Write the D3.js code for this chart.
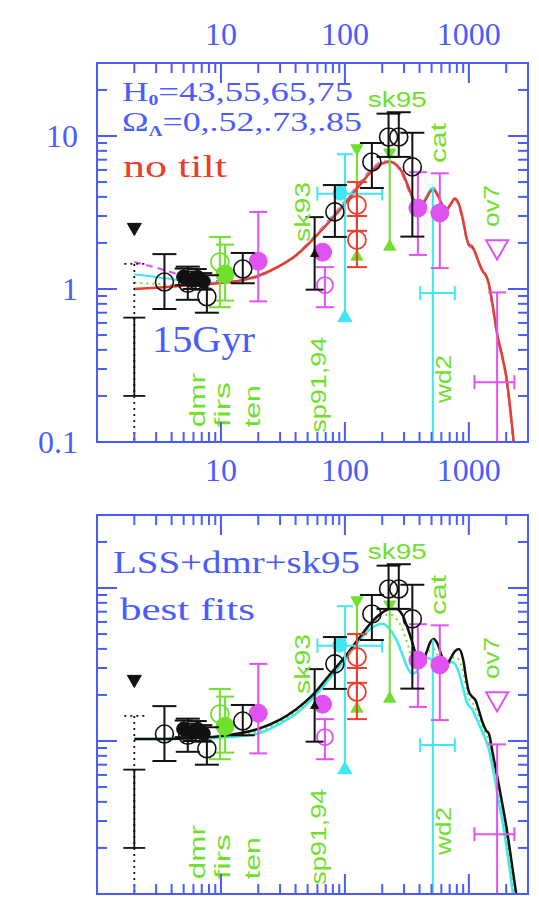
<!DOCTYPE html>
<html lang="en">
<head>
<meta charset="UTF-8">
<title>CMB anisotropy models</title>
<script src="https://d3js.org/d3.v7.min.js"></script>
<style>
  body { margin: 0; background: #fff; }
  svg { display: block; }
</style>
</head>
<body>
<svg id="chart" width="539" height="908"></svg>
<script>
// ---------------- data ----------------
const modelL = [2, 3, 5, 8, 12, 20, 30, 40, 55, 75, 100, 130, 165, 200, 230, 260, 290, 320, 350, 380, 410, 450, 490, 520, 560, 610, 660, 710, 770, 830, 900, 960, 1000, 1060, 1130, 1200, 1300, 1380, 1450, 1550, 1700, 1850, 2000, 2150, 2300, 2450];

// top panel: no tilt, 15 Gyr
const redModel = [1.00, 1.02, 1.05, 1.08, 1.11, 1.22, 1.42, 1.65, 2.1, 2.75, 3.6, 4.7, 5.9, 6.6, 6.8, 6.5, 5.8, 4.8, 4.0, 3.55, 3.45, 3.85, 4.35, 4.45, 4.1, 3.55, 3.3, 3.55, 3.9, 3.6, 2.8, 2.15, 1.95, 1.9, 1.72, 1.5, 1.3, 1.22, 1.08, 0.8, 0.5, 0.37, 0.27, 0.17, 0.1, 0.065];
const magentaModel = [1.5, 1.38, 1.22, 1.14, 1.12, 1.2, 1.42, 1.66, 2.15, 2.85, 3.75, 4.9, 6.1, 6.8, 6.85, 6.4, 5.6, 4.6, 3.9, 3.55, 3.5, 3.95, 4.4, 4.45, 4.05, 3.5, 3.3, 3.55, 3.85, 3.5, 2.7, 2.1, 1.92, 1.85, 1.68, 1.48, 1.28, 1.2, 1.05, 0.77, 0.48, 0.36, 0.26, 0.16, 0.095, 0.06];
const cyanModel = [1.25, 1.2, 1.13, 1.1, 1.11, 1.21, 1.42, 1.66, 2.12, 2.8, 3.7, 4.8, 6.0, 6.7, 6.85, 6.5, 5.75, 4.75, 4.0, 3.6, 3.55, 4.0, 4.5, 4.6, 4.2, 3.6, 3.35, 3.6, 3.9, 3.55, 2.75, 2.12, 1.95, 1.88, 1.7, 1.5, 1.3, 1.22, 1.07, 0.79, 0.49, 0.37, 0.27, 0.17, 0.1, 0.065];
const greenModel = [1.1, 1.08, 1.06, 1.08, 1.11, 1.21, 1.42, 1.65, 2.1, 2.78, 3.65, 4.75, 5.95, 6.65, 6.8, 6.45, 5.7, 4.7, 3.95, 3.55, 3.5, 3.9, 4.4, 4.5, 4.1, 3.55, 3.3, 3.55, 3.88, 3.55, 2.75, 2.12, 1.94, 1.88, 1.7, 1.5, 1.3, 1.21, 1.07, 0.79, 0.49, 0.37, 0.27, 0.17, 0.1, 0.065];

// bottom panel: LSS+dmr+sk95 best fits
const blackFit = [1.03, 1.03, 1.04, 1.06, 1.1, 1.2, 1.38, 1.6, 2.0, 2.7, 3.55, 4.7, 6.0, 6.9, 7.3, 7.3, 6.7, 5.5, 4.4, 3.5, 3.2, 3.7, 4.45, 4.65, 4.3, 3.5, 3.15, 3.45, 3.85, 4.0, 3.4, 2.45, 2.1, 1.95, 1.85, 1.6, 1.3, 1.17, 1.12, 0.85, 0.58, 0.4, 0.28, 0.19, 0.13, 0.092];
const cyanFit = [1.03, 1.03, 1.03, 1.04, 1.06, 1.12, 1.3, 1.5, 1.9, 2.55, 3.4, 4.5, 5.5, 5.85, 5.4, 4.6, 3.7, 3.0, 2.75, 2.85, 3.2, 3.5, 3.45, 3.2, 2.9, 2.85, 3.1, 3.3, 3.2, 2.8, 2.2, 1.8, 1.7, 1.62, 1.45, 1.3, 1.12, 1.0, 0.88, 0.68, 0.45, 0.31, 0.21, 0.14, 0.092, 0.06];
const greenFit = [1.03, 1.03, 1.03, 1.05, 1.08, 1.16, 1.34, 1.55, 1.95, 2.62, 3.48, 4.6, 5.9, 6.6, 6.7, 6.3, 5.4, 4.3, 3.5, 3.1, 3.15, 3.6, 4.0, 4.0, 3.6, 3.1, 3.0, 3.3, 3.55, 3.4, 2.8, 2.15, 1.9, 1.8, 1.65, 1.45, 1.22, 1.1, 1.0, 0.78, 0.52, 0.36, 0.25, 0.17, 0.11, 0.075];

// quadrupole, l = 2
const quadL = 2;
const quadSolid = [0.2, 0.65];
const quadDotted = [0.05, 1.46];
const quadLimit = 2.45;

// measurements: [l, value, low, high]
const blackOpen = [[3.5, 1.11, 0.74, 1.69], [5.4, 1.09, 0.85, 1.4], [7.7, 0.89, 0.70, 1.23], [15, 1.35, 1.09, 1.72],
                   [83, 3.19, 2.19, 4.78], [165, 6.76, 4.57, 9.0], [225, 9.85, 7.3, 14.0], [272, 9.85, 7.3, 14.3], [350, 6.28, 2.2, 10.5]];
const dmrFilled = [[5.0, 1.2, 1.06, 1.36], [5.8, 1.14, 1.0, 1.3], [6.5, 1.19, 1.05, 1.35], [7.2, 1.12, 0.99, 1.27]];
const blackTriangle = [[57, 1.72, 0.99, 2.95]];
const greenOpen = [[9.8, 1.5, 0.76, 2.19]];
const greenFilled = [[10.8, 1.25, 0.84, 1.95]];
const greenLimits = [[125, 1.67, 8.1], [230, 1.94, 7.6]];   // [l, lower marker, upper marker]
const magentaFilled = [[20, 1.52, 0.83, 3.19], [66, 1.74, 1.74, 1.74], [388, 3.38, 1.67, 5.8], [583, 3.14, 1.37, 5.7]];
const magentaOpen = [[69, 1.06, 0.76, 1.39]];
const magentaBand = [[1690, 0.246, 0.01, 0.95, 1110, 2330]];   // [l, value, low, high, lmin, lmax]
const magentaLimit = [[1690, 1.8]];
const cyanBand = [[100, 4.2, 0.72, 7.6, 60, 200], [512, 0.94, 0.01, 4.6, 405, 770]];
const cyanFilled = [[91, 4.24]];
const redOpen = [[125, 3.54, 2.4, 5.0], [125, 2.09, 1.39, 3.0]];

// tick labels
const xTickLabels = [10, 100, 1000];
const yTickLabels = [0.1, 1, 10];

// experiment labels: [text, l, value, length]
const expLabels = [["dmr", 6.4, 0.125, 54], ["firs", 10.2, 0.125, 45], ["ten", 17.8, 0.125, 42],
                   ["sp91,94", 60.5, 0.115, 96], ["wd2", 619, 0.18, 48], ["sk93", 45, 2.03, 60],
                   ["cat", 560, 6.66, 40], ["ov7", 1520, 2.54, 42]];

// ---------------- drawing ----------------
const BLUE = '#4b5cff', GREEN = '#6fe02c', MAG = '#e152f2', CYAN = '#3fe7f2', RED = '#ee3b2b', BLACK = '#111';

const svg = d3.select('#chart');
const x = d3.scaleLog().domain([1, 3000]).range([97, 528]);
const yDomain = [0.1, 30];

const panels = [
  { id: 'top', top: 63, bottom: 442,
    curves: [[greenModel, GREEN, 2, '2,4'], [magentaModel, MAG, 2, '7,5'], [cyanModel, CYAN, 2, null], [redModel, RED, 2.5, null]] },
  { id: 'bot', top: 515, bottom: 894,
    curves: [[cyanFit, CYAN, 2.5, null], [greenFit, GREEN, 2, '2,4'], [blackFit, BLACK, 2.5, null]] }
];

function isMajor(t) { return Math.abs(Math.log10(t) - Math.round(Math.log10(t))) < 1e-6; }

function triangle(cx, cy, s, down) {
  const h = s * 0.87;
  return down
    ? `M${cx - s / 2},${cy - h / 2}L${cx + s / 2},${cy - h / 2}L${cx},${cy + h / 2}Z`
    : `M${cx - s / 2},${cy + h / 2}L${cx + s / 2},${cy + h / 2}L${cx},${cy - h / 2}Z`;
}

panels.forEach(p => {
  const y = d3.scaleLog().domain(yDomain).range([p.bottom, p.top]);
  const x0 = x.range()[0], x1 = x.range()[1];

  svg.append('clipPath').attr('id', 'clip-' + p.id)
    .append('rect').attr('x', x0).attr('y', p.top).attr('width', x1 - x0).attr('height', p.bottom - p.top);
  const g = svg.append('g').attr('clip-path', `url(#clip-${p.id})`);

  // model curves
  const line = d3.line().x(d => x(d[0])).y(d => y(d[1])).curve(d3.curveMonotoneX);
  p.curves.forEach(([vals, color, w, dash]) => {
    g.append('path')
      .datum(modelL.map((l, i) => [l, vals[i]]))
      .attr('d', line)
      .attr('fill', 'none')
      .attr('stroke', color)
      .attr('stroke-width', w)
      .attr('stroke-dasharray', dash)
      .attr('stroke-linejoin', 'round');
  });

  function vbar(l, lo, hi, color, cap, w, dash) {
    const cx = x(l);
    g.append('line').attr('x1', cx).attr('x2', cx).attr('y1', y(lo)).attr('y2', y(hi))
      .attr('stroke', color).attr('stroke-width', w).attr('stroke-dasharray', dash);
    if (cap) {
      [lo, hi].forEach(v => {
        g.append('line').attr('x1', cx - cap).attr('x2', cx + cap).attr('y1', y(v)).attr('y2', y(v))
          .attr('stroke', color).attr('stroke-width', w).attr('stroke-dasharray', dash);
      });
    }
  }
  function hbar(v, lmin, lmax, color, capH, w) {
    const cy = y(v);
    g.append('line').attr('x1', x(lmin)).attr('x2', x(lmax)).attr('y1', cy).attr('y2', cy)
      .attr('stroke', color).attr('stroke-width', w);
    [lmin, lmax].forEach(l => {
      g.append('line').attr('x1', x(l)).attr('x2', x(l)).attr('y1', cy - capH).attr('y2', cy + capH)
        .attr('stroke', color).attr('stroke-width', w);
    });
  }
  function circle(l, v, r, color, filled, w) {
    g.append('circle').attr('cx', x(l)).attr('cy', y(v)).attr('r', r)
      .attr('fill', filled ? color : 'none').attr('stroke', color).attr('stroke-width', w);
  }
  function tri(l, v, s, color, down, filled) {
    g.append('path').attr('d', triangle(x(l), y(v), s, down))
      .attr('fill', filled ? color : 'none').attr('stroke', color).attr('stroke-width', filled ? 1 : 2);
  }

  // quadrupole
  vbar(quadL, quadDotted[0], quadDotted[1], BLACK, 0, 1.8, '2,4');
  g.append('line').attr('x1', x(quadL) - 10).attr('x2', x(quadL) + 10)
    .attr('y1', y(quadDotted[1])).attr('y2', y(quadDotted[1]))
    .attr('stroke', BLACK).attr('stroke-width', 1.8).attr('stroke-dasharray', '2,4');
  vbar(quadL, quadSolid[0], quadSolid[1], BLACK, 11, 1.8, null);
  tri(quadL, quadLimit, 14, BLACK, true, true);

  // cyan bands
  cyanBand.forEach(([l, v, lo, hi, lmin, lmax]) => {
    vbar(l, lo, hi, CYAN, 0, 2, null);
    hbar(v, lmin, lmax, CYAN, 7, 2);
  });
  g.append('line').attr('x1', x(cyanBand[0][0]) - 8).attr('x2', x(cyanBand[0][0]) + 8)
    .attr('y1', y(cyanBand[0][3])).attr('y2', y(cyanBand[0][3])).attr('stroke', CYAN).attr('stroke-width', 2);
  tri(cyanBand[0][0], cyanBand[0][2] * 0.93, 14, CYAN, false, true);
  cyanFilled.forEach(([l, v]) => circle(l, v, 7, CYAN, true, 1));

  // magenta
  magentaBand.forEach(([l, v, lo, hi, lmin, lmax]) => {
    vbar(l, lo, hi, MAG, 0, 2, null);
    g.append('line').attr('x1', x(l) - 9).attr('x2', x(l) + 9).attr('y1', y(hi)).attr('y2', y(hi))
      .attr('stroke', MAG).attr('stroke-width', 2);
    hbar(v, lmin, lmax, MAG, 7, 2);
  });
  magentaOpen.forEach(([l, v, lo, hi]) => { vbar(l, lo, hi, MAG, 9, 2, null); circle(l, v, 8, MAG, false, 1.8); });
  magentaFilled.forEach(([l, v, lo, hi]) => { if (hi > lo) vbar(l, lo, hi, MAG, 9, 2, null); circle(l, v, 9, MAG, true, 1); });
  magentaLimit.forEach(([l, v]) => tri(l, v, 22, MAG, true, false));

  // green
  greenLimits.forEach(([l, lo, hi]) => {
    vbar(l, lo, hi, GREEN, 0, 2, null);
    tri(l, lo, 12, GREEN, false, true);
    tri(l, hi, 12, GREEN, true, true);
  });
  greenOpen.forEach(([l, v, lo, hi]) => { vbar(l, lo, hi, GREEN, 11, 2, null); circle(l, v, 9, GREEN, false, 1.8); });
  greenFilled.forEach(([l, v, lo, hi]) => { vbar(l, lo, hi, GREEN, 9, 2, null); circle(l, v, 9, GREEN, true, 1); });

  // red
  redOpen.forEach(([l, v, lo, hi]) => { vbar(l, lo, hi, RED, 10, 2, null); circle(l, v, 9, RED, false, 1.8); });

  // black
  blackTriangle.forEach(([l, v, lo, hi]) => { vbar(l, lo, hi, BLACK, 9, 2, null); tri(l, v, 8, BLACK, false, true); });
  dmrFilled.forEach(([l, v, lo, hi]) => { vbar(l, lo, hi, BLACK, 9, 2, null); circle(l, v, 7, BLACK, true, 1); });
  blackOpen.forEach(([l, v, lo, hi]) => { vbar(l, lo, hi, BLACK, 12, 2, null); circle(l, v, 9, BLACK, false, 1.6); });

  // experiment labels
  expLabels.forEach(([txt, l, v, len]) => {
    svg.append('text')
      .attr('transform', `translate(${x(l)},${y(v)}) rotate(-90)`)
      .attr('dy', '0.36em')
      .attr('textLength', len).attr('lengthAdjust', 'spacingAndGlyphs')
      .attr('font-family', 'Liberation Sans, Arial, sans-serif').attr('font-size', 22)
      .attr('fill', GREEN).text(txt);
  });
  svg.append('text').attr('x', x(153)).attr('y', y(15.4))
    .attr('textLength', 59).attr('lengthAdjust', 'spacingAndGlyphs')
    .attr('font-family', 'Liberation Sans, Arial, sans-serif').attr('font-size', 22)
    .attr('fill', GREEN).text('sk95');

  // frame and ticks
  const ax = svg.append('g').attr('stroke', BLUE).attr('stroke-width', 2);
  ax.append('rect').attr('x', x0).attr('y', p.top).attr('width', x1 - x0).attr('height', p.bottom - p.top).attr('fill', 'none');
  x.ticks().forEach(t => {
    const len = isMajor(t) ? 20 : 10;
    ax.append('line').attr('x1', x(t)).attr('x2', x(t)).attr('y1', p.bottom).attr('y2', p.bottom - len);
    ax.append('line').attr('x1', x(t)).attr('x2', x(t)).attr('y1', p.top).attr('y2', p.top + len);
  });
  y.ticks().forEach(t => {
    const len = isMajor(t) ? 20 : 10;
    ax.append('line').attr('x1', x0).attr('x2', x0 + len).attr('y1', y(t)).attr('y2', y(t));
    ax.append('line').attr('x1', x1).attr('x2', x1 - len).attr('y1', y(t)).attr('y2', y(t));
  });

  p.y = y;
});

// tick labels (top panel only)
const yTop = panels[0].y;
const labelFont = 'Liberation Serif, Times New Roman, serif';
xTickLabels.forEach(t => {
  [45, 481].forEach(by => {
    svg.append('text').attr('x', x(t)).attr('y', by).attr('text-anchor', 'middle')
      .attr('font-family', labelFont).attr('font-size', 32).attr('fill', BLUE).text(t);
  });
});
yTickLabels.forEach(t => {
  svg.append('text').attr('x', 78).attr('y', yTop(t)).attr('dy', '0.35em').attr('text-anchor', 'end')
    .attr('font-family', labelFont).attr('font-size', 32).attr('fill', BLUE).text(t);
});

// annotations
function blueText(xp, yp, len, size) {
  return svg.append('text').attr('x', xp).attr('y', yp)
    .attr('font-family', labelFont).attr('font-size', size).attr('fill', BLUE)
    .attr('textLength', len).attr('lengthAdjust', 'spacingAndGlyphs');
}
const h0 = blueText(122, 101, 231, 28);
h0.append('tspan').text('H');
h0.append('tspan').attr('font-size', 15).attr('dy', 4).attr('font-weight', 'bold').text('0');
h0.append('tspan').attr('dy', -4).text('=43,55,65,75');
const om = blueText(122, 131, 240, 28);
om.append('tspan').text('Ω');
om.append('tspan').attr('font-size', 15).attr('dy', 5).attr('font-weight', 'bold').text('Λ');
om.append('tspan').attr('dy', -5).text('=0,.52,.73,.85');
blueText(123, 177, 104, 32).attr('fill', RED).text('no tilt');
blueText(152, 352, 103, 38).text('15Gyr');
blueText(113, 573, 247, 32).text('LSS+dmr+sk95');
blueText(120, 620, 135, 32).text('best fits');
</script>
</body>
</html>
